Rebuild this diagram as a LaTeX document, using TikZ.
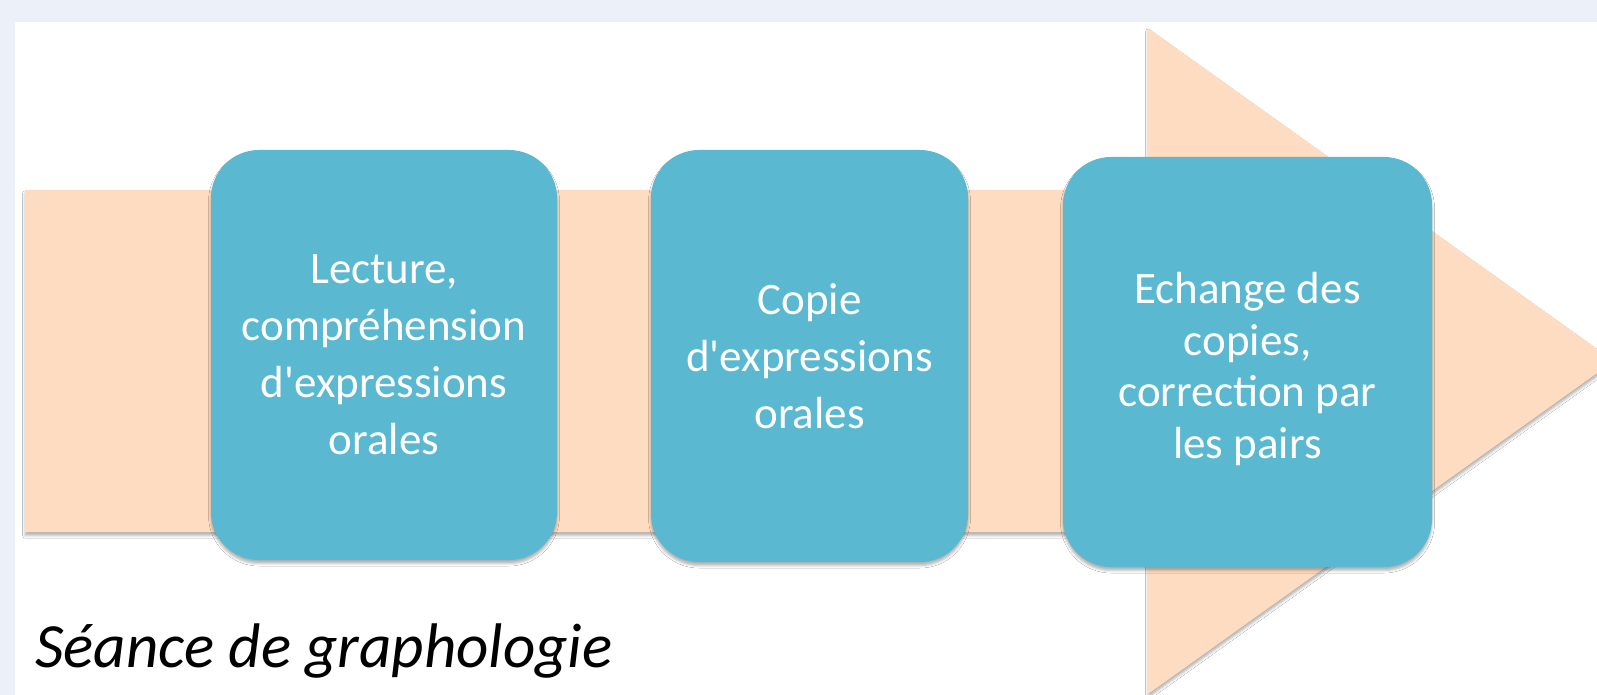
\documentclass[tikz,border=0pt]{standalone}
\usepackage{fontspec}
\setmainfont{Carlito}
\usetikzlibrary{shadows.blur}
\definecolor{bgblue}{HTML}{ECF1F9}
\definecolor{peach}{HTML}{FDDCC2}
\definecolor{tile}{HTML}{5BB8D1}
\tikzset{
  softshadow/.style={blur shadow={shadow xshift=0pt, shadow yshift=-3.5pt, shadow blur radius=2.5pt, shadow opacity=30}},
  tilebox/.style={fill=tile, rounded corners=48pt, inner sep=0pt, align=center,
    text=white, font=\fontsize{45}{57}\selectfont, softshadow},
  titletext/.style={font=\fontsize{63}{70}\selectfont\itshape, text=black, inner sep=0pt, anchor=base west}
}
\begin{document}
\begin{tikzpicture}[x=1pt,y=-1pt]
\useasboundingbox (0,0) rectangle (1597,695);
\clip (0,0) rectangle (1597,695);
\fill[bgblue] (0,0) rectangle (1597,695);
\fill[white] (15,22) rectangle (1597,695);
% big arrow
\fill[peach, softshadow] (25,190) -- (1148,190) -- (1148,28) -- (1614,361) -- (1148,694) -- (1148,532) -- (25,532) -- cycle;
% steps
\node[tilebox, minimum width=346pt, minimum height=410pt] (b1) at (384,355)
  {Lecture,\\compréhension\\d\textquotesingle expressions\\orales};
\node[tilebox, minimum width=317pt, minimum height=412pt] (b2) at (809.5,356)
  {Copie\\d\textquotesingle expressions\\orales};
\node[tilebox, minimum width=369pt, minimum height=410pt, font=\fontsize{45}{51.5}\selectfont] (b3) at (1247.5,362)
  {\rule{0pt}{45pt}Echange des\\copies,\\correction par\\les pairs};
% title
\node[titletext] (title) at (35,667) {Séance de graphologie};
\end{tikzpicture}
\end{document}
